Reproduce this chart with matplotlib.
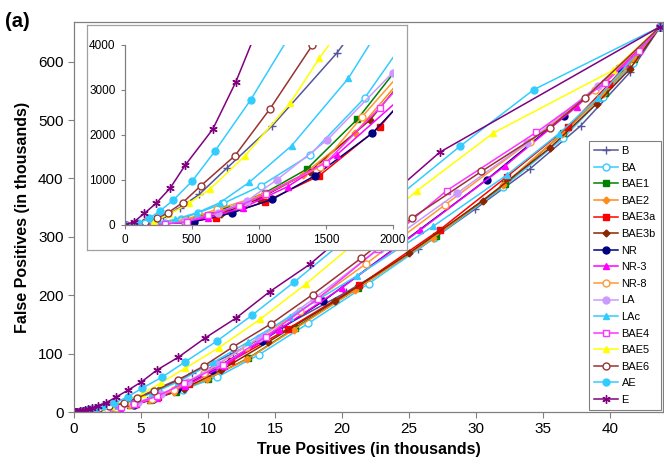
import matplotlib
matplotlib.use("Agg")
import matplotlib.pyplot as plt
import numpy as np

plt.rcParams["font.family"] = ["Liberation Sans", "DejaVu Sans"]

# data (thousands); inset shows the same points x1000
B_x = [0, 0.1, 0.19, 0.289, 0.413, 0.557, 0.761, 1.101, 1.58, 2.2, 3.2, 4.6, 6.5, 8.8, 11.9, 15.5, 20.3, 25.7, 29.9, 34.0, 37.8, 41.5, 43.75]
B_y = [0, 0.01, 0.05, 0.17, 0.385, 0.681, 1.259, 2.207, 3.815, 6.3, 11.5, 23, 43, 66, 101, 145, 205, 279, 347, 416, 490, 582, 660]

BA_x = [0, 0.15, 0.3, 0.42, 0.55, 0.736, 1.014, 1.381, 1.791, 2.3, 3.2, 4.4, 6.0, 8.1, 10.7, 13.8, 17.5, 22.0, 26.9, 32.0, 36.5, 39.5, 41.7, 43.75]
BA_y = [0, 0.01, 0.05, 0.13, 0.274, 0.481, 0.867, 1.556, 2.830, 5.0, 9.0, 15, 24, 38, 60, 98, 152, 220, 298, 385, 469, 540, 598, 660]

BAE1_x = [0, 0.2, 0.45, 0.756, 1.05, 1.356, 1.734, 2.3, 3.1, 4.2, 5.7, 7.6, 10.0, 13.0, 16.5, 21.2, 27.0, 32.2, 36.5, 39.6, 41.8, 43.75]
BAE1_y = [0, 0.02, 0.11, 0.348, 0.72, 1.237, 2.348, 4.5, 7.6, 12.5, 21, 35, 57, 92, 144, 212, 302, 391, 478, 547, 605, 660]

BAE2_x = [0, 0.2, 0.45, 0.72, 1.0, 1.33, 1.72, 2.25, 3.0, 4.1, 5.6, 7.5, 9.9, 12.9, 16.4, 21.0, 26.8, 32.0, 36.4, 39.5, 41.8, 43.75]
BAE2_y = [0, 0.02, 0.1, 0.3, 0.62, 1.12, 2.05, 3.9, 7.0, 12, 20.5, 34, 56, 90, 141, 209, 298, 388, 476, 545, 604, 660]

BAE3a_x = [0, 0.2, 0.45, 0.681, 1.05, 1.451, 1.902, 2.5, 3.4, 4.6, 6.3, 8.6, 11.7, 16.0, 21.3, 27.3, 32.3, 36.9, 39.9, 43.75]
BAE3a_y = [0, 0.01, 0.06, 0.163, 0.52, 1.096, 2.185, 4.3, 8, 14, 25, 48, 87, 143, 217, 312, 403, 489, 561, 660]

BAE3b_x = [0, 0.2, 0.45, 0.72, 1.0, 1.381, 1.828, 2.4, 3.2, 4.4, 6.0, 8.2, 11.0, 14.5, 19.5, 25.0, 30.5, 35.5, 39.0, 41.5, 43.75]
BAE3b_y = [0, 0.015, 0.08, 0.25, 0.58, 1.185, 2.333, 4.4, 7.6, 13, 22, 40, 72, 120, 190, 272, 362, 452, 528, 588, 660]

NR_x = [0, 0.2, 0.518, 0.8, 1.101, 1.419, 1.845, 2.4, 3.3, 4.5, 5.9, 7.7, 10.3, 14.0, 18.6, 24.5, 30.8, 36.6, 40.7, 43.75]
NR_y = [0, 0.01, 0.074, 0.27, 0.570, 1.096, 2.037, 3.8, 7, 12.5, 22, 39, 72, 121, 190, 290, 398, 507, 590, 660]

NR3_x = [0, 0.2, 0.45, 0.62, 0.88, 1.215, 1.580, 2.05, 2.6, 3.4, 4.6, 6.2, 8.3, 11.2, 15.3, 20.0, 25.8, 32.2, 37.5, 41.1, 43.75]
NR3_y = [0, 0.015, 0.08, 0.16, 0.38, 0.852, 1.556, 2.8, 4.5, 7.5, 13, 24, 45, 79, 141, 213, 311, 422, 523, 598, 660]

NR8_x = [0, 0.2, 0.45, 0.691, 1.046, 1.456, 1.766, 2.3, 3.1, 4.3, 5.8, 7.5, 9.7, 12.8, 16.9, 21.8, 27.7, 34.0, 38.9, 43.75]
NR8_y = [0, 0.02, 0.12, 0.348, 0.681, 1.296, 2.393, 4.2, 7.3, 13, 23, 38, 66, 112, 173, 254, 355, 463, 551, 660]

LA_x = [0, 0.2, 0.45, 0.699, 0.914, 1.133, 1.510, 1.997, 2.6, 3.5, 4.8, 6.5, 8.5, 10.7, 13.8, 17.9, 22.8, 28.6, 33.8, 39.1, 43.75]
LA_y = [0, 0.01, 0.08, 0.274, 0.541, 1.0, 1.889, 3.385, 6.2, 10.5, 17.5, 30, 52, 82, 127, 194, 280, 375, 461, 559, 660]

LAc_x = [0, 0.15, 0.264, 0.376, 0.542, 0.711, 0.929, 1.245, 1.667, 2.2, 3.0, 4.2, 5.8, 7.8, 10.4, 13.0, 16.1, 21.1, 26.8, 32.3, 36.2, 39.1, 43.75]
LAc_y = [0, 0.01, 0.052, 0.126, 0.274, 0.496, 0.948, 1.763, 3.259, 5.8, 10.5, 19, 32, 52, 85, 120, 163, 233, 318, 406, 477, 538, 660]

BAE4_x = [0, 0.15, 0.3, 0.468, 0.624, 0.85, 1.054, 1.500, 1.902, 2.5, 3.5, 4.5, 6.2, 8.2, 11.1, 14.3, 18.2, 22.7, 27.8, 34.5, 39.6, 42.2, 43.75]
BAE4_y = [0, 0.005, 0.02, 0.074, 0.222, 0.42, 0.689, 1.385, 2.607, 4.6, 8.5, 14, 27, 49, 81, 129, 194, 280, 379, 479, 563, 619, 660]

BAE5_x = [0, 0.12, 0.222, 0.334, 0.480, 0.637, 0.897, 1.232, 1.45, 2.0, 2.8, 3.9, 5.1, 6.5, 8.3, 10.8, 13.9, 17.3, 21.4, 25.6, 31.3, 40.2, 43.75]
BAE5_y = [0, 0.02, 0.096, 0.237, 0.481, 0.800, 1.533, 2.704, 3.7, 6.0, 10.5, 19, 31, 50, 75, 110, 159, 219, 298, 379, 478, 585, 660]

BAE6_x = [0, 0.08, 0.153, 0.240, 0.326, 0.433, 0.567, 0.823, 1.083, 1.4, 1.9, 2.6, 3.7, 4.7, 6.0, 7.8, 9.7, 11.9, 14.7, 17.8, 21.4, 25.2, 30.4, 35.5, 38.1, 43.75]
BAE6_y = [0, 0.02, 0.074, 0.148, 0.274, 0.496, 0.867, 1.541, 2.578, 4.0, 6.3, 9.5, 15, 24, 36, 55, 79, 112, 151, 201, 263, 332, 412, 487, 537, 660]

AE_x = [0, 0.1, 0.185, 0.264, 0.364, 0.505, 0.676, 0.939, 1.25, 1.65, 2.2, 3.0, 4.0, 5.1, 6.6, 8.3, 10.7, 13.3, 16.4, 22.0, 28.8, 34.3, 43.75]
AE_y = [0, 0.04, 0.148, 0.311, 0.556, 0.978, 1.652, 2.778, 4.3, 6.4, 9.6, 15, 26, 41, 60, 86, 122, 166, 222, 328, 455, 552, 660]

E_x = [0, 0.07, 0.148, 0.235, 0.339, 0.453, 0.657, 0.828, 1.05, 1.35, 1.8, 2.4, 3.1, 4.0, 5.0, 6.2, 7.8, 9.8, 12.1, 14.6, 17.6, 21.8, 27.3, 43.75]
E_y = [0, 0.07, 0.259, 0.481, 0.815, 1.333, 2.126, 3.171, 4.8, 6.8, 10.5, 16, 25, 37, 51, 72, 94, 127, 161, 206, 253, 335, 445, 660]

# label, x, y, color, marker, filled, size
series = [
    ("B", B_x, B_y, "#55559c", "+", True, 6),
    ("BA", BA_x, BA_y, "#33ccff", "o", False, 5),
    ("BAE1", BAE1_x, BAE1_y, "#008000", "s", True, 5),
    ("BAE2", BAE2_x, BAE2_y, "#ff8c1a", "D", True, 3.5),
    ("BAE3a", BAE3a_x, BAE3a_y, "#ff0000", "s", True, 5),
    ("BAE3b", BAE3b_x, BAE3b_y, "#8b2500", "D", True, 3.5),
    ("NR", NR_x, NR_y, "#000080", "o", True, 5),
    ("NR-3", NR3_x, NR3_y, "#ff00ff", "^", True, 5),
    ("NR-8", NR8_x, NR8_y, "#ff9933", "o", False, 5),
    ("LA", LA_x, LA_y, "#cc99ff", "o", True, 5),
    ("LAc", LAc_x, LAc_y, "#33ccff", "^", True, 5),
    ("BAE4", BAE4_x, BAE4_y, "#ff33ff", "s", False, 5),
    ("BAE5", BAE5_x, BAE5_y, "#ffff00", "^", True, 5),
    ("BAE6", BAE6_x, BAE6_y, "#993333", "o", False, 5),
    ("AE", AE_x, AE_y, "#33ccff", "o", True, 5),
    ("E", E_x, E_y, "#800080", (6, 2, 0), True, 6),
]

fig = plt.figure(figsize=(6.64, 4.70), dpi=100)
ax = fig.add_axes([0.1114, 0.1234, 0.887, 0.8298])


def draw(a, scale):
    for label, xs, ys, col, mk, filled, ms in series:
        a.plot(np.array(xs) * scale, np.array(ys) * scale, color=col, lw=1.1,
               marker=mk, ms=ms, mec=col, mfc=col if filled else "white",
               mew=1.0, label=label)


draw(ax, 1)
ax.set_xlim(0, 43.95)
ax.set_ylim(0, 668)
ax.set_xticks(range(0, 41, 5))
ax.set_yticks(range(0, 601, 100))
ax.tick_params(direction="out", length=4, color="#808080", labelsize=11)
for s in ax.spines.values():
    s.set_color("#808080")
    s.set_linewidth(0.9)
ax.set_xlabel("True Positives (in thousands)", fontsize=11.5, fontweight="bold", labelpad=4)
ax.set_ylabel("False Positives (in thousands)", fontsize=11.5, fontweight="bold", labelpad=6)

leg = ax.legend(loc="lower right", fontsize=7.9, frameon=True, fancybox=False,
                framealpha=1, edgecolor="#808080", borderaxespad=0.15,
                handlelength=2.2, handletextpad=0.3, labelspacing=0.6,
                borderpad=0.5)
leg.get_frame().set_linewidth(0.8)

# inset frame
box = fig.add_axes([0.131, 0.468, 0.482, 0.479])
box.set_xticks([])
box.set_yticks([])
box.set_facecolor("white")
for s in box.spines.values():
    s.set_color("#a0a0a0")
    s.set_linewidth(0.9)

ins = fig.add_axes([0.1875, 0.5213, 0.4044, 0.383])
draw(ins, 1000)
ins.set_xlim(0, 2000)
ins.set_ylim(0, 4000)
ins.set_xticks(range(0, 2001, 500))
ins.set_yticks(range(0, 4001, 1000))
ins.tick_params(direction="out", length=3, color="#808080", labelsize=8.5)
ins.spines["top"].set_visible(False)
ins.spines["right"].set_visible(False)
for s in ("left", "bottom"):
    ins.spines[s].set_color("#808080")
    ins.spines[s].set_linewidth(0.9)
ins.patch.set_alpha(0)

fig.text(0.008, 0.955, "(a)", fontsize=14.5, fontweight="bold", ha="left", va="center")

fig.savefig("out.png", dpi=100)
